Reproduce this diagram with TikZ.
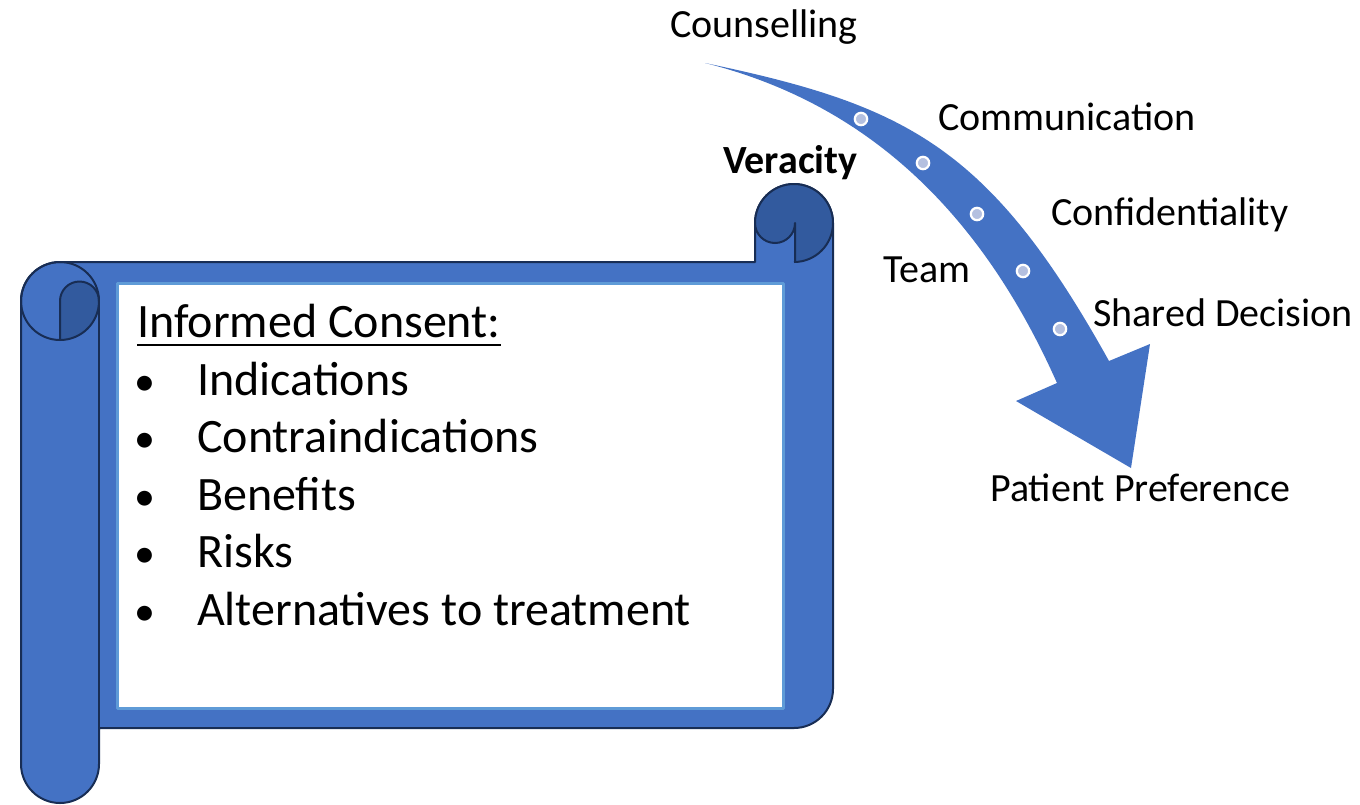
\documentclass[tikz,border=0pt]{standalone}
\usepackage{fontspec}
\setmainfont{Carlito}
\definecolor{scrollblue}{RGB}{68,114,196}
\definecolor{rolldark}{RGB}{50,90,158}
\definecolor{edgenavy}{RGB}{24,45,84}
\definecolor{panelrim}{RGB}{95,155,215}
\definecolor{dotfill}{RGB}{180,192,224}
\begin{document}
\begin{tikzpicture}[x=1pt,y=-1pt,line join=round,
  outl/.style={draw=edgenavy,line width=2},
  lbl/.style={font=\fontsize{40}{48}\selectfont,inner sep=0,anchor=base west},
  bodytxt/.style={font=\fontsize{48}{57}\selectfont,inner sep=0,anchor=base west},
  bul/.style={font=\fontsize{42}{50}\selectfont,inner sep=0,anchor=base},
  dotmark/.style={draw=white,line width=2.2,fill=dotfill}]
\useasboundingbox (0,0) rectangle (1360,804);

% scroll silhouette
\path[fill=scrollblue,outl]
  (21,764) -- (21,301) arc[start angle=180,end angle=270,radius=39]
  -- (755,262) -- (755,223) arc[start angle=180,end angle=360,radius=39]
  -- (833,689) arc[start angle=0,end angle=90,radius=39]
  -- (99,728) -- (99,764) arc[start angle=0,end angle=180,radius=39] -- cycle;

% right roll
\fill[rolldark] (794,223) circle[radius=39];
\fill[scrollblue] (755,223) arc[start angle=180,end angle=0,radius=20] -- (795,262) -- (755,262) -- cycle;
\draw[outl] (755,223) arc[start angle=180,end angle=450,radius=39];
\draw[outl] (755,262) -- (755,223) arc[start angle=180,end angle=0,radius=20] -- (795,262);

% left roll
\fill[rolldark] (60,301) arc[start angle=180,end angle=360,radius=19.5] arc[start angle=0,end angle=90,radius=39] -- cycle;
\draw[outl] (60,301) circle[radius=39];
\draw[outl] (60,340) -- (60,301) arc[start angle=180,end angle=360,radius=19.5];
\draw[outl] (99,301) -- (99,764);

% panel
\draw[panelrim,line width=3,fill=white] (117,283) rectangle (783,708);

% curved arrow
\fill[scrollblue] (705,63) .. controls (905,105) and (989,145) .. (1109,361)
  -- (1150,344) -- (1131,468) -- (1016,401) -- (1057,383)
  .. controls (980,210) and (865,103) .. (705,63) -- cycle;
\foreach \p in {(861,119),(923,163),(977,214),(1023,271),(1060,329)}
  \draw[dotmark] \p circle[radius=6.2];

% labels
\node[lbl] (couns) at (670,37) {Counselling};
\node[lbl] (comm) at (938,130) {Communication};
\node[lbl,font=\fontsize{40}{48}\selectfont\bfseries] (ver) at (723,173) {Veracity};
\node[lbl] (conf) at (1051,225) {Confidentiality};
\node[lbl] (team) at (883,282) {Team};
\node[lbl] (shared) at (1093,326) {Shared Decision};
\node[lbl] (pat) at (990,501) {Patient Preference};

% panel text
\node[bodytxt] (title) at (137,337) {Informed Consent:};
\draw[line width=2.5] ([yshift=-8pt]title.base west) -- ([yshift=-8pt]title.base east);
\node[bul] (d1) at (145,395) {\textbullet};
\node[bul] (d2) at (145,452.5) {\textbullet};
\node[bul] (d3) at (145,510) {\textbullet};
\node[bul] (d4) at (145,567.5) {\textbullet};
\node[bul] (d5) at (145,625) {\textbullet};
\node[bodytxt] (i1) at (197,395) {Indications};
\node[bodytxt] (i2) at (197,452.5) {Contraindications};
\node[bodytxt] (i3) at (197,510) {Benefits};
\node[bodytxt] (i4) at (197,567.5) {Risks};
\node[bodytxt] (i5) at (197,625) {Alternatives to treatment};
\end{tikzpicture}
\end{document}
